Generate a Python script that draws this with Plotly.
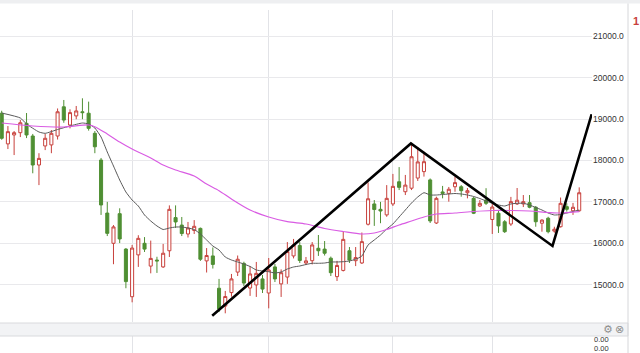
import plotly.graph_objects as go

# ---- candle data (index = trading day) ----
idx = list(range(94))
open_ = [19140, 18400, 18615, 18670, 18895, 18590, 17890, 18350, 18375, 18590,
         19295, 18855, 19075, 19175, 19140, 18655, 18010, 16730, 16000, 16715,
         15860, 14710, 15720, 16000, 15450, 15595, 15430, 15820, 16620, 16440,
         16225, 16310, 16360, 15575, 15695, 14915, 14485, 14810, 15305, 15515,
         14920, 14995, 15140, 14800, 15430, 15020, 15185, 15695, 15945, 15525,
         15580, 15880, 15860, 15640, 15195, 15345, 15820, 15580, 15525, 16460,
         16950, 16820, 16685, 16950, 17485, 17245, 17330, 17575, 17730, 17530,
         16490, 17240, 17205, 17365, 17365, 17220, 17085, 16900, 17045, 16575,
         16725, 16520, 16465, 16950, 16950, 16980, 16870, 16485, 16605, 16295,
         16400, 16885, 16785, 16785]
high = [19200, 18830, 18710, 18975, 19145, 18640, 18175, 18640, 18735, 19255,
        19460, 19235, 19315, 19500, 19420, 18710, 18060, 17000, 16440, 16845,
        15885, 15960, 16195, 16150, 16065, 15675, 15985, 16915, 16915, 16635,
        16515, 16560, 16380, 15885, 15900, 15140, 14850, 15260, 15705, 15555,
        15450, 15550, 15235, 15645, 15500, 15370, 16030, 16105, 16030, 15670,
        16030, 16200, 16055, 15680, 15575, 16275, 15910, 15910, 16260, 17470,
        17045, 17000, 17405, 17675, 17840, 17650, 18375, 18325, 18210, 17565,
        17125, 17385, 17360, 17610, 17405, 17335, 17125, 17045, 17330, 16950,
        16805, 16560, 17120, 17335, 17165, 17165, 16900, 16580, 16640, 16400,
        17105, 16965, 16975, 17350]
low = [18500, 18275, 18130, 18565, 18540, 17690, 17405, 18250, 18175, 18505,
       18910, 18775, 18995, 18995, 18720, 18175, 16685, 16175, 15495, 16005,
       14915, 14575, 15430, 15790, 15275, 15285, 15405, 15670, 16370, 16175,
       16140, 16225, 15575, 15295, 15390, 14340, 14310, 14710, 15210, 14970,
       14730, 14705, 14800, 14430, 15065, 14705, 15020, 15635, 15525, 15475,
       15490, 15695, 15705, 15210, 15090, 15320, 15525, 15450, 15500, 16430,
       16420, 16485, 16640, 16900, 17285, 17165, 17285, 17505, 17610, 16490,
       16465, 17085, 17005, 17245, 17125, 17085, 16705, 16875, 16925, 16225,
       16250, 16250, 16420, 16925, 16875, 16845, 16400, 16280, 16240, 16255,
       16380, 16765, 16685, 16765]
close = [18535, 18695, 18670, 18910, 18615, 17890, 18050, 18535, 18655, 19175,
         18975, 19155, 19195, 19155, 18775, 18330, 16925, 16240, 16395, 16105,
         15075, 15885, 16120, 15860, 15635, 15575, 15760, 16820, 16515, 16235,
         16370, 16410, 15615, 15705, 15490, 14415, 14715, 15140, 15615, 15040,
         15260, 15275, 14895, 15355, 15140, 15290, 15800, 15960, 15585, 15575,
         15960, 15820, 15760, 15290, 15465, 16095, 15595, 15655, 16040, 17075,
         16815, 16780, 17085, 17375, 17350, 17405, 18090, 17965, 17970, 16540,
         17085, 17205, 17305, 17465, 17270, 17270, 16725, 16965, 16965, 16875,
         16420, 16280, 17005, 17040, 17005, 16870, 16520, 16560, 16280, 16340,
         16965, 16820, 16870, 17220]

# ---- moving averages ----
ma_short_idx = [0, 3, 4, 6, 7, 9, 11, 13, 14, 15, 16, 17, 18, 19, 20, 21, 22, 23, 24, 25,
                26, 27, 28, 29, 30, 31, 32, 33, 34, 35, 36, 37, 38, 39, 40, 41, 42, 43, 44, 45,
                46, 47, 48, 49, 50, 51, 52, 53, 54, 55, 56, 57, 58, 59, 60, 61, 62, 63, 64, 65,
                66, 67, 68, 69, 70, 71, 72, 73, 74, 75, 76, 77, 78, 79, 80, 81, 82, 83, 84, 85,
                86, 87, 88, 89, 90, 91, 92, 93]
ma_short = [19145, 19025, 18880, 18687, 18655, 18747, 18832, 18904, 18880, 18783, 18566, 18204,
            17866, 17528, 17238, 17045, 16900, 16683, 16538, 16418, 16333, 16369, 16393, 16393,
            16369, 16333, 16225, 16080, 15935, 15838, 15669, 15597, 15549, 15500, 15440, 15355,
            15331, 15314, 15283, 15307, 15380, 15428, 15452, 15488, 15517, 15517, 15524, 15549,
            15549, 15556, 15573, 15614, 15693, 15959, 16080, 16200, 16345, 16466, 16635, 16804,
            16973, 17118, 17221, 17166, 17166, 17178, 17190, 17202, 17190, 17166, 17130, 17081,
            17021, 16966, 16925, 16900, 16949, 16966, 16966, 16925, 16864, 16804, 16731, 16683,
            16695, 16731, 16768, 16804]
ma_long_idx = [0, 5, 10, 14, 15, 17, 19, 21, 24, 26, 28, 31, 33, 35, 37, 40, 43, 46, 49, 52,
               55, 58, 60, 62, 64, 66, 68, 70, 73, 76, 79, 82, 85, 88, 90, 93]
ma_long = [18904, 18832, 18807, 18856, 18815, 18638, 18445, 18276, 18059, 17890, 17770, 17625,
           17431, 17270, 17069, 16804, 16635, 16521, 16466, 16357, 16285, 16225, 16249, 16333,
           16442, 16538, 16635, 16707, 16731, 16768, 16792, 16792, 16780, 16744, 16731, 16763]

# ---- hand-drawn pattern line ----
pattern_idx = [33.9, 65.9, 88.7, 95.0]
pattern_price = [14250, 18410, 15935, 19115]

# ---- axis labels ----
price_ticks = [15000, 16000, 17000, 18000, 19000, 20000, 21000]
price_labels = ["15000.0", "16000.0", "17000.0", "18000.0", "19000.0", "20000.0", "21000.0"]
month_ticks = [21, 43, 63, 79]
lower_labels = ["0.00", "0.00"]

W, H = 640, 353
PLOT_R = 592  # right edge of plot area in px
FONT = "Liberation Sans, Arial, sans-serif"

def px_x(x):
    return x / PLOT_R

def px_y(y):
    return (H - y) / (H - 10)

fig = go.Figure()
fig.add_trace(go.Candlestick(
    x=idx, open=open_, high=high, low=low, close=close,
    increasing=dict(line=dict(color="#c8403c", width=1), fillcolor="#ffffff"),
    decreasing=dict(line=dict(color="#4f8f33", width=1), fillcolor="#4f8f33"),
    whiskerwidth=0, hoverinfo="skip", showlegend=False, xaxis="x", yaxis="y"))
fig.add_trace(go.Scatter(x=ma_short_idx, y=ma_short, mode="lines",
                         line=dict(color="#5a5a5a", width=1, shape="spline", smoothing=0.5),
                         hoverinfo="skip", showlegend=False))
fig.add_trace(go.Scatter(x=ma_long_idx, y=ma_long, mode="lines",
                         line=dict(color="#d95ce3", width=1.2, shape="spline", smoothing=0.8),
                         hoverinfo="skip", showlegend=False))
fig.add_trace(go.Scatter(x=pattern_idx, y=pattern_price, mode="lines",
                         line=dict(color="#000000", width=2.6),
                         hoverinfo="skip", showlegend=False))
# empty trace for the lower panel
fig.add_trace(go.Scatter(x=[], y=[], xaxis="x2", yaxis="y2", showlegend=False))

grid_v = "#e2e3e7"
grid_h = "#e9e9ec"

fig.update_layout(
    width=W, height=H,
    margin=dict(l=0, r=W - PLOT_R, t=10, b=0, pad=0),
    paper_bgcolor="white", plot_bgcolor="white", showlegend=False,
    xaxis=dict(range=[-0.274, 95.06], rangeslider=dict(visible=False),
               tickvals=month_ticks, showticklabels=False, ticks="",
               showgrid=True, gridcolor=grid_v, gridwidth=1,
               zeroline=False, showline=False, anchor="y", domain=[0, 1]),
    yaxis=dict(domain=[px_y(322), 1], range=[14100, 21632], side="right",
               tickvals=price_ticks, ticktext=price_labels, ticks="",
               showgrid=True, gridcolor=grid_h, gridwidth=1,
               zeroline=False, showline=False, anchor="x",
               ticklabelstandoff=0,
               tickfont=dict(family=FONT, size=8.5, color="#333333")),
    xaxis2=dict(matches="x", anchor="y2", tickvals=month_ticks, showticklabels=False,
                ticks="", showgrid=True, gridcolor=grid_v, zeroline=False, showline=False,
                domain=[0, 1]),
    yaxis2=dict(domain=[0, px_y(336)], range=[0, 1], anchor="x2", showticklabels=False,
                showgrid=False, zeroline=False, showline=False),
)

shapes = [
    # top gray strip
    dict(type="rect", xref="paper", yref="paper", x0=-0.01, x1=px_x(W), y0=px_y(3.5), y1=px_y(0),
         fillcolor="#eeeff1", line=dict(width=0), layer="above"),
    # separator band between panels
    dict(type="rect", xref="paper", yref="paper", x0=-0.01, x1=px_x(628), y0=px_y(336), y1=px_y(323),
         fillcolor="#f2f3f5", line=dict(color="#d9dadd", width=1), layer="above"),
    # right border
    dict(type="line", xref="paper", yref="paper", x0=px_x(628), x1=px_x(628), y0=0, y1=px_y(3.5),
         line=dict(color="#d6d7da", width=1)),
]
fig.update_layout(shapes=shapes)

annotations = [
    dict(text=lower_labels[0], xref="paper", yref="paper", x=px_x(593), y=px_y(339.8),
         xanchor="left", yanchor="middle", showarrow=False, borderpad=0,
         font=dict(family=FONT, size=7.5, color="#333333")),
    dict(text=lower_labels[1], xref="paper", yref="paper", x=px_x(593), y=px_y(348.6),
         xanchor="left", yanchor="middle", showarrow=False, borderpad=0,
         font=dict(family=FONT, size=7.5, color="#333333")),
    dict(text="⚙", xref="paper", yref="paper", x=px_x(607.5), y=px_y(329.5),
         xanchor="center", yanchor="middle", showarrow=False,
         font=dict(family="DejaVu Sans", size=11, color="#8f8f8f")),
    dict(text="⊗", xref="paper", yref="paper", x=px_x(619.5), y=px_y(329.5),
         xanchor="center", yanchor="middle", showarrow=False,
         font=dict(family="DejaVu Sans", size=11, color="#8f8f8f")),
    dict(text="<b>1</b>", xref="paper", yref="paper", x=px_x(631), y=px_y(20.5),
         xanchor="left", yanchor="middle", showarrow=False,
         font=dict(family=FONT, size=11, color="#c8403c")),
]
fig.update_layout(annotations=annotations)

fig.write_html("out.html")
